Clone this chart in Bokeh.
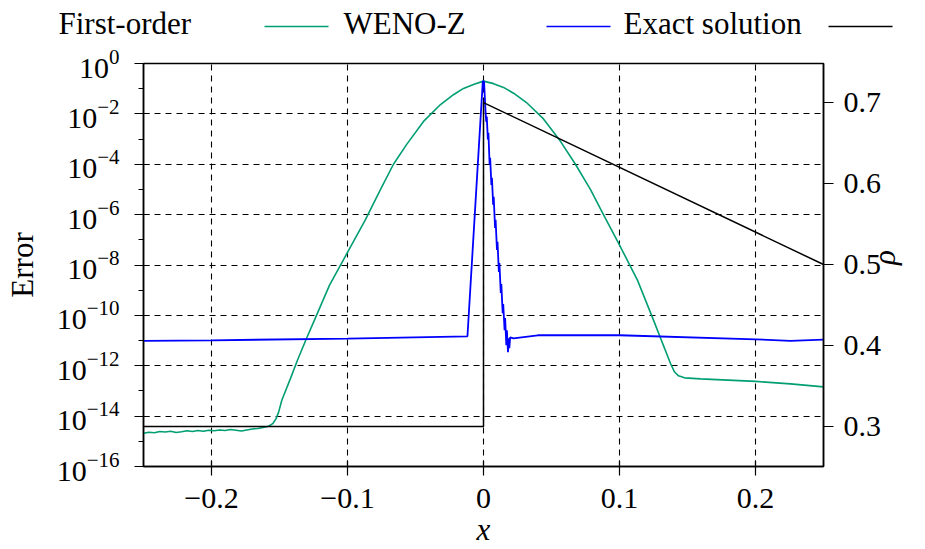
import math
from bokeh.plotting import figure
from bokeh.models import (Range1d, LinearScale, LinearAxis, FixedTicker, CustomJSTickFormatter,
                          LogTickFormatter)
from bokeh.layouts import column
from bokeh.embed import file_html
from bokeh.resources import INLINE
from bokeh.core.properties import value

# ---------------- data ----------------
# First-order error (green), log10 of the error
green_x = [-0.250, -0.246, -0.242, -0.238, -0.234, -0.230, -0.226, -0.222, -0.218, -0.214,
           -0.210, -0.206, -0.202, -0.198, -0.194, -0.190, -0.186, -0.182, -0.178, -0.174,
           -0.170, -0.166, -0.162, -0.158, -0.155, -0.1525, -0.1507, -0.1483, -0.1419,
           -0.1368, -0.1301, -0.1243, -0.1132, -0.1, -0.0868, -0.0757, -0.0662, -0.0566,
           -0.0441, -0.0316, -0.0221, -0.0147, -0.0074, 0.0, 0.0074, 0.0147, 0.0221, 0.0316,
           0.0441, 0.0566, 0.0676, 0.0787, 0.0882, 0.0985, 0.1132, 0.125, 0.1375, 0.1405,
           0.1434, 0.1478, 0.1596, 0.2, 0.2257, 0.25]
green_log_err = [-14.68, -14.64, -14.66, -14.61, -14.63, -14.60, -14.65, -14.62, -14.58, -14.61,
                 -14.57, -14.60, -14.56, -14.58, -14.55, -14.57, -14.53, -14.56, -14.59, -14.55,
                 -14.51, -14.49, -14.45, -14.40, -14.30, -14.10, -13.85, -13.37, -12.50,
                 -11.78, -10.91, -10.19, -8.80, -7.50, -6.20, -5.00, -4.00, -3.22,
                 -2.30, -1.63, -1.24, -0.99, -0.83, -0.70, -0.80, -0.95, -1.18, -1.55,
                 -2.20, -3.09, -4.00, -5.01, -6.00, -7.05, -8.60, -10.19, -11.91, -12.25,
                 -12.40, -12.48, -12.52, -12.62, -12.72, -12.84]

# WENO-Z error (blue), log10 of the error
blue_x = [-0.25, -0.2, -0.1, -0.0118, -0.0005, 0.0004, 0.0015, 0.0020, 0.0024, 0.0032,
          0.0036, 0.0045, 0.0049, 0.0058, 0.0062, 0.0071, 0.0075, 0.0085, 0.0089, 0.0099,
          0.0103, 0.0113, 0.0117, 0.0127, 0.0131, 0.0141, 0.0145, 0.0155, 0.0159, 0.0168,
          0.0172, 0.0180, 0.0184, 0.0190, 0.0196, 0.022, 0.04, 0.1, 0.2, 0.2257, 0.25]
blue_log_err = [-11.01, -10.99, -10.92, -10.83, -0.70, -0.72, -1.91, -2.31, -2.11, -3.02,
                -2.75, -4.02, -3.74, -4.82, -4.54, -5.61, -5.29, -6.53, -6.21, -7.40,
                -7.08, -8.28, -7.92, -9.11, -8.76, -9.91, -9.55, -10.59, -10.11, -11.18,
                -10.59, -11.46, -10.91, -11.30, -10.87, -10.91, -10.79, -10.79, -10.95,
                -11.01, -10.96]

# Exact solution (black), density rho on the right axis
exact_x = [-0.25, 0.0, 0.0, 0.25]
exact_rho = [0.30, 0.30, 0.70, 0.50]

legend_labels = ["First-order", "WENO-Z", "Exact solution"]

x_ticks = [-0.2, -0.1, 0.0, 0.1, 0.2]
x_tick_labels = ["\u22120.2", "\u22120.1", "0", "0.1", "0.2"]
err_tick_exps = [0, -2, -4, -6, -8, -10, -12, -14, -16]
err_minor_exps = [-1, -3, -5, -7, -9, -11, -13, -15]
rho_ticks = [0.3, 0.4, 0.5, 0.6, 0.7]

# ---------------- styling / layout ----------------
GREEN = "#009e73"
BLUE = "#0000ff"
BLACK = "#000000"
FONT = "Liberation Serif"
FS = "31px"
TICK_FS = "30px"

W, H = 925, 549
LEG_H = 45
MAIN_H = H - LEG_H

# ---------------- legend strip (text followed by its line sample) ----------------
leg = figure(width=W, height=LEG_H, x_range=Range1d(0, W), y_range=Range1d(LEG_H, 0),
             x_axis_location=None, y_axis_location=None, toolbar_location=None,
             output_backend="svg", min_border=0, frame_align=False)
leg.grid.visible = False
leg.outline_line_color = None
leg_text_x = [58, 343, 623]
leg_line_x = [264, 546, 828]
LEG_LINE_LEN = 64
leg.text(x=leg_text_x, y=[23] * 3, text=legend_labels, text_font=value(FONT),
         text_font_size=FS, text_baseline="middle", text_align="left",
         text_color=BLACK)
for x0, c in zip(leg_line_x, [GREEN, BLUE, BLACK]):
    leg.line(x=[x0, x0 + LEG_LINE_LEN], y=[26, 26], line_color=c, line_width=1.6)

# ---------------- main plot ----------------
p = figure(width=W, height=MAIN_H, x_range=Range1d(-0.25, 0.25),
           y_range=Range1d(1e-16, 1.0), y_axis_type="log",
           toolbar_location=None, output_backend="svg", frame_align=False,
           min_border_left=143, min_border_right=102, min_border_top=63 - LEG_H,
           min_border_bottom=83)
p.extra_y_ranges = {"rho": Range1d(0.2505, 0.7483)}
p.extra_y_scales = {"rho": LinearScale()}

p.outline_line_color = BLACK
p.outline_line_width = 1.5
p.background_fill_color = "white"
p.border_fill_color = "white"

# left axis (log error)
ly = p.yaxis[0]
ly.ticker = FixedTicker(ticks=[10.0 ** e for e in err_tick_exps],
                        minor_ticks=[10.0 ** e for e in err_minor_exps])
ly.formatter = LogTickFormatter(min_exponent=0)
ly.axis_label = "Error"
ly.axis_label_text_font_style = "normal"
ly.major_tick_in = 6
ly.major_tick_out = 9
ly.minor_tick_in = 0
ly.minor_tick_out = 5
ly.major_label_standoff = 15
ly.axis_label_standoff = 14

# bottom axis
bx = p.xaxis[0]
bx.ticker = FixedTicker(ticks=x_ticks)
bx.formatter = CustomJSTickFormatter(
    args=dict(vals=x_ticks, labels=x_tick_labels),
    code="let b = 0; for (let i = 0; i < vals.length; i++) { if (Math.abs(vals[i] - tick) < Math.abs(vals[b] - tick)) b = i; } return labels[b];")
bx.axis_label = "x"
bx.axis_label_text_font_style = "italic"
bx.major_tick_in = 6
bx.major_tick_out = 9
bx.minor_tick_in = 0
bx.minor_tick_out = 0
bx.major_label_standoff = 13
bx.axis_label_standoff = 1

# right axis (rho)
ry = LinearAxis(y_range_name="rho", ticker=FixedTicker(ticks=rho_ticks), axis_label="\u03c1")
ry.axis_label_text_font_style = "italic"
ry.axis_label_orientation = math.pi / 2
ry.major_tick_in = 0
ry.major_tick_out = 10
ry.minor_tick_in = 0
ry.minor_tick_out = 0
ry.major_label_standoff = 10
ry.axis_label_standoff = 0
p.add_layout(ry, "right")

for ax in [ly, bx, ry]:
    ax.axis_line_color = BLACK
    ax.axis_line_width = 1.5
    ax.major_tick_line_color = BLACK
    ax.major_tick_line_width = 1.2
    ax.minor_tick_line_color = BLACK
    ax.minor_tick_line_width = 1.2
    ax.major_label_text_font = FONT
    ax.major_label_text_font_size = TICK_FS
    ax.major_label_text_color = BLACK
    ax.axis_label_text_font = FONT
    ax.axis_label_text_font_size = FS
    ax.axis_label_text_color = BLACK

for g in [p.xgrid[0], p.ygrid[0]]:
    g.grid_line_color = BLACK
    g.grid_line_width = 1.1
    g.grid_line_dash = "6 5"
    g.grid_line_alpha = 1.0

# ---- curves ----
p.line(x=green_x, y=[10.0 ** e for e in green_log_err], line_color=GREEN, line_width=1.6)
p.line(x=blue_x, y=[10.0 ** e for e in blue_log_err], line_color=BLUE, line_width=1.8)
p.line(x=exact_x, y=exact_rho, y_range_name="rho", line_color=BLACK, line_width=1.5)

layout = column(leg, p, spacing=0)
open("out.html", "w").write(file_html(layout, INLINE))
